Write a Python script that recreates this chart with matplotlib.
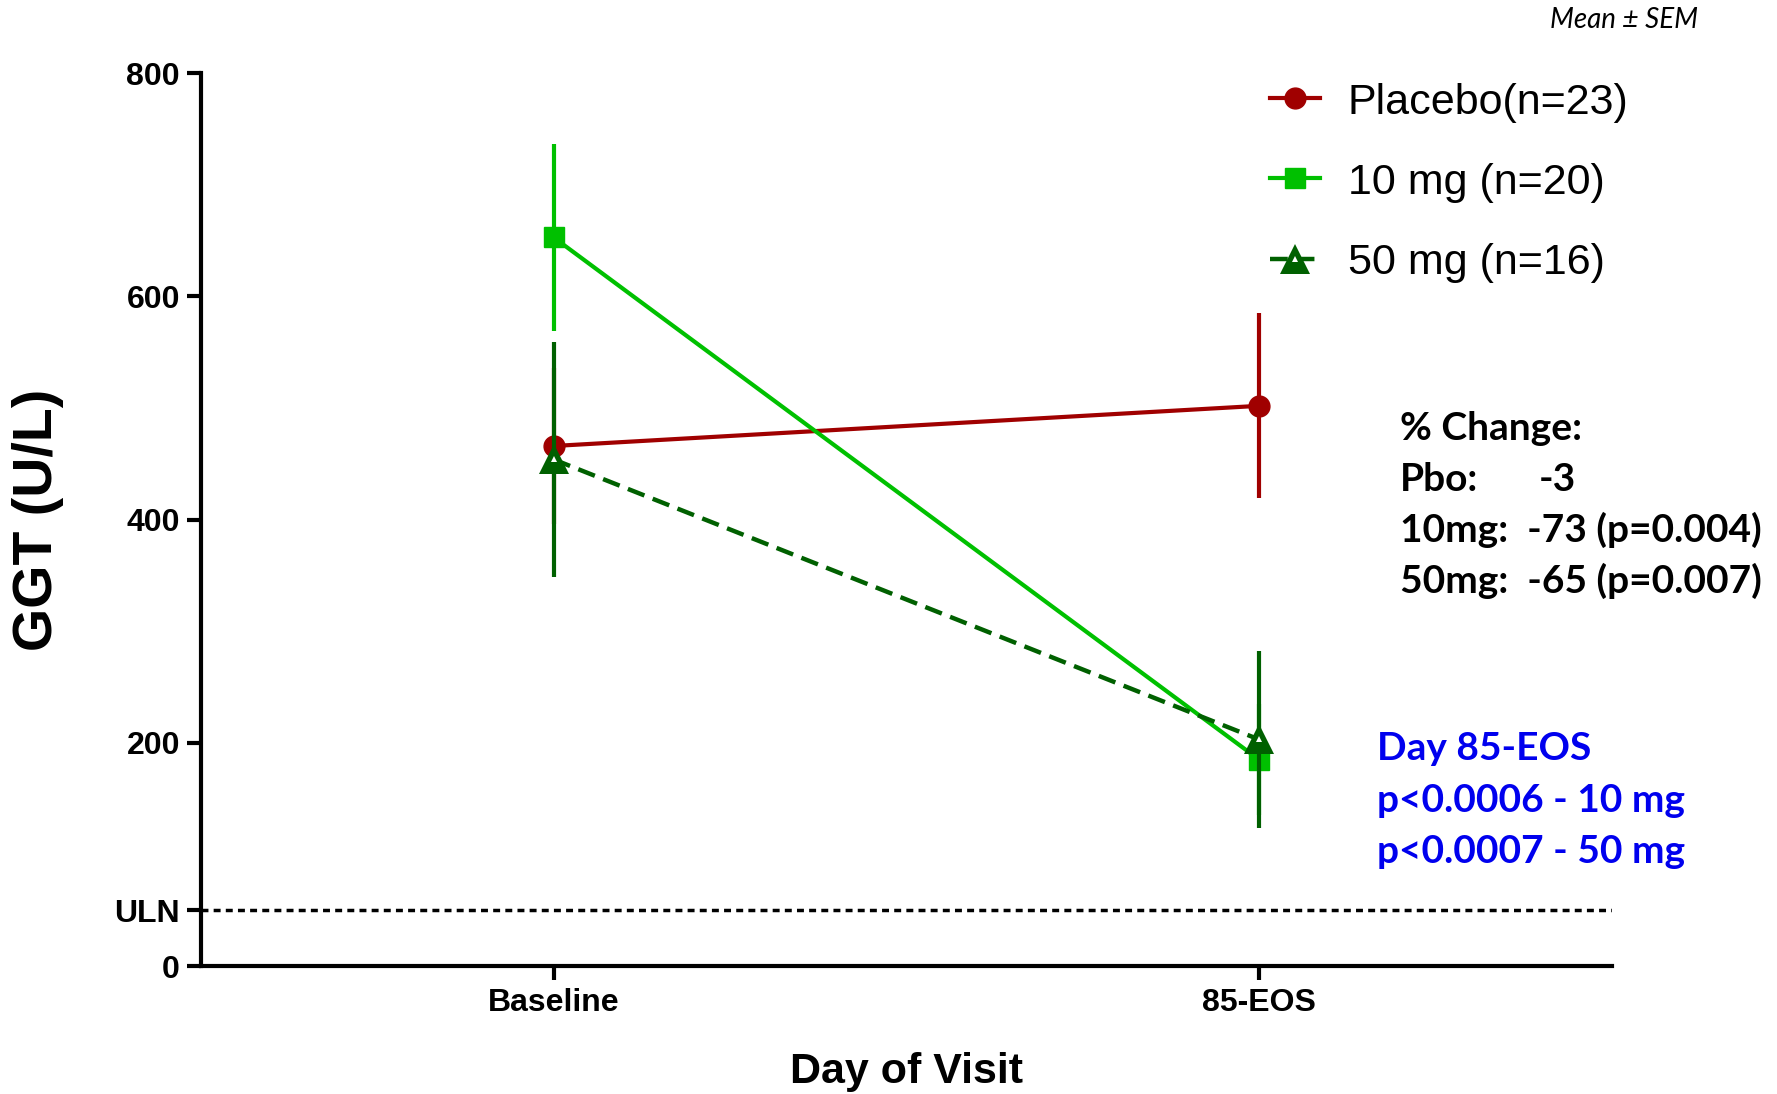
import matplotlib.pyplot as plt
from matplotlib.lines import Line2D

visits = ["Baseline", "85-EOS"]
x = [1, 2]

placebo = [466, 502]
placebo_sem = [70, 83]
mg10 = [653, 185]
mg10_sem = [84, 50]
mg50 = [454, 203]
mg50_sem = [105, 79]

uln = 50
yticks = [0, uln, 200, 400, 600, 800]
yticklabels = ["0", "ULN", "200", "400", "600", "800"]

red = "#A00000"
green = "#00C000"
dkgreen = "#006000"

fig = plt.figure(figsize=(17.77, 10.94), dpi=100)
ax = fig.add_axes([0.113, 0.117, 0.794, 0.816])

ax.errorbar(x, placebo, yerr=placebo_sem, color=red, lw=3, elinewidth=3,
            marker="o", ms=15, capsize=0, zorder=3)
ax.errorbar(x, mg10, yerr=mg10_sem, color=green, lw=3, elinewidth=3,
            marker="s", ms=15, capsize=0, zorder=4)
ax.errorbar(x, mg50, yerr=mg50_sem, color=dkgreen, lw=3.2, elinewidth=3,
            ls=(0, (4, 2)), marker="^", ms=21, mew=0, capsize=0, zorder=5)
# small hole in the triangles
ax.plot(x, mg50, ls="none", marker="^", ms=5, mew=0, color="white", zorder=6)

# upper limit of normal
ax.axhline(uln, color="black", lw=2.5, ls=(0, (2, 1.5)), zorder=2)

ax.set_xlim(0.5, 2.5)
ax.set_ylim(0, 800)
ax.set_yticks(yticks)
ax.set_yticklabels(yticklabels)
ax.set_xticks(x)
ax.set_xticklabels(visits)
for s in ["top", "right"]:
    ax.spines[s].set_visible(False)
for s in ["left", "bottom"]:
    ax.spines[s].set_linewidth(3)
ax.tick_params(width=3, length=10, direction="out", labelsize=23, pad=5)
for lab in ax.get_xticklabels() + ax.get_yticklabels():
    lab.set_fontfamily("Liberation Sans")
    lab.set_fontweight("bold")
ax.tick_params(axis="x", pad=6)

ax.set_ylabel("GGT (U/L)", fontsize=40, fontweight="bold",
              family="Liberation Sans", labelpad=36)
ax.set_xlabel("Day of Visit", fontsize=31, fontweight="bold",
              family="Liberation Sans", labelpad=24)

tri = Line2D([], [], color=dkgreen, lw=3.2, ls=(0, (4, 2)), marker="^",
             ms=21, mew=0)
hole = Line2D([], [], ls="none", marker="^", ms=5, mew=0, color="white")
handles = [
    Line2D([], [], color=red, lw=3, marker="o", ms=15),
    Line2D([], [], color=green, lw=3, marker="s", ms=15),
    (tri, hole),
]
labels = ["Placebo(n=23)", "10 mg (n=20)", "50 mg (n=16)"]
fig.legend(handles, labels, loc="upper left", bbox_to_anchor=(0.693, 0.96),
           frameon=False, prop={"family": "Liberation Sans", "size": 31},
           handlelength=1.15, handletextpad=0.65, labelspacing=0.93)

fig.text(0.872, 0.982, "Mean \u00b1 SEM", fontsize=20, style="italic",
         family="Lato", va="center")

bold = dict(fontsize=28, fontweight="bold", family="Lato", va="center")
fig.text(0.788, 0.608, "% Change:", **bold)
fig.text(0.788, 0.562, "Pbo:", **bold)
fig.text(0.866, 0.562, "-3", **bold)
fig.text(0.788, 0.516, "10mg:  -73 (p=0.004)", **bold)
fig.text(0.788, 0.469, "50mg:  -65 (p=0.007)", **bold)

blue = dict(fontsize=28, fontweight="bold", family="Lato", va="center",
            color="#0000EE")
fig.text(0.775, 0.316, "Day 85-EOS", **blue)
fig.text(0.775, 0.268, "p<0.0006 - 10 mg", **blue)
fig.text(0.775, 0.222, "p<0.0007 - 50 mg", **blue)

fig.savefig("out.png", dpi=100, facecolor="white")
